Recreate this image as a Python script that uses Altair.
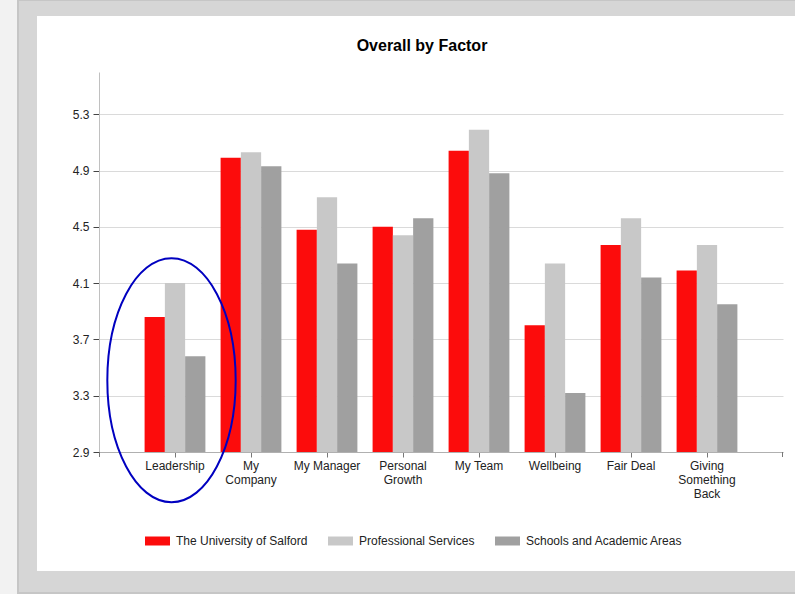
import altair as alt
import pandas as pd

factors = ["Leadership", "My Company", "My Manager", "Personal Growth",
           "My Team", "Wellbeing", "Fair Deal", "Giving Something Back"]
series = ["The University of Salford", "Professional Services", "Schools and Academic Areas"]
salford = [3.86, 4.99, 4.48, 4.50, 5.04, 3.80, 4.37, 4.19]
professional = [4.10, 5.03, 4.71, 4.44, 5.19, 4.24, 4.56, 4.37]
schools = [3.58, 4.93, 4.24, 4.56, 4.88, 3.32, 4.14, 3.95]
y_ticks = [2.9, 3.3, 3.7, 4.1, 4.5, 4.9, 5.3]
label_lines = {
    "My Company": ["My", "Company"],
    "Personal Growth": ["Personal", "Growth"],
    "Giving Something Back": ["Giving", "Something", "Back"],
}
colors = ["#fc0c0c", "#c8c8c8", "#a0a0a0"]

rows = []
for s, vals in zip(series, [salford, professional, schools]):
    for f, v in zip(factors, vals):
        rows.append({"factor": f, "series": s, "value": v})
df = pd.DataFrame(rows)

FONT = "Liberation Sans"
W, H = 684, 380
OX, OY = 99, 72

expr = ""
for k, parts in label_lines.items():
    arr = "[" + ",".join("'" + p + "'" for p in parts) + "]"
    expr += f"datum.value == '{k}' ? {arr} : "
expr += "datum.label"

x_axis = alt.Axis(title=None, labelAngle=0, labelFont=FONT, labelFontSize=12,
                  labelColor="#222222", labelLineHeight=14, labelPadding=3,
                  ticks=True, tickSize=5, tickColor="#777777", domainColor="#b0b0b0",
                  labelExpr=expr, grid=False, labelOverlap=False)
y_axis = alt.Axis(title=None, values=y_ticks, format=".1f", grid=True,
                  gridColor="#dadada", ticks=True, tickSize=6, tickColor="#444444",
                  domainColor="#c0c0c0", labelPadding=4, labelFont=FONT,
                  labelFontSize=12, labelColor="#222222")

x_scale = alt.Scale(domain=factors, paddingInner=0.2, paddingOuter=0.6)
y_scale = alt.Scale(domain=[2.9, 5.6], nice=False, zero=False)


def frame_rect(x1, x2, y1, y2, color):
    return alt.Chart(alt.Data(values=[{"k": 1}])).mark_rect(
        color=color, strokeWidth=0).encode(
        x=alt.value(x1 - OX), x2=alt.value(x2 - OX),
        y=alt.value(y1 - OY), y2=alt.value(y2 - OY))


frame = [
    frame_rect(0, 17, 0, 594, "#f2f2f2"),
    frame_rect(17, 19, 0, 594, "#c6c6c6"),
    frame_rect(19, 37, 0, 594, "#d6d6d6"),
    frame_rect(19, 795, 0, 16, "#d6d6d6"),
    frame_rect(17, 795, 0, 1, "#c6c6c6"),
    frame_rect(19, 795, 571, 594, "#d6d6d6"),
    frame_rect(19, 795, 592, 594, "#c6c6c6"),
]

# small end ticks of the category axis
end_ticks = [
    alt.Chart(alt.Data(values=[{"k": 1}])).mark_rule(color="#777777", strokeWidth=1).encode(
        x=alt.value(xv), y=alt.value(H), y2=alt.value(H + 5))
    for xv in (0.5, W - 0.5)
]

bars = alt.Chart(df).mark_bar().encode(
    x=alt.X("factor:N", scale=x_scale, axis=x_axis, sort=factors),
    xOffset=alt.XOffset("series:N", sort=series, scale=alt.Scale(domain=series, paddingInner=0, paddingOuter=0)),
    y=alt.Y("value:Q", scale=y_scale, axis=y_axis),
    y2=alt.datum(2.9),
    color=alt.Color("series:N", scale=alt.Scale(domain=series, range=colors),
                    legend=alt.Legend(title=None, orient="none", legendX=46, legendY=456.5,
                                      direction="horizontal", padding=0, gridAlign="none",
                                      symbolType="M-1,-0.36H1V0.36H-1Z", symbolSize=625,
                                      symbolStrokeWidth=0, symbolOpacity=1,
                                      labelFont=FONT, labelFontSize=12, labelColor="#222222",
                                      labelOffset=6, columnPadding=20)),
)

ellipse_path = "M-0.526,0 A0.526,1 0 1,1 0.526,0 A0.526,1 0 1,1 -0.526,0 Z"
ellipse = alt.Chart(alt.Data(values=[{"k": 1}])).mark_point(
    shape=ellipse_path, size=59536, filled=False, color="#0000c0",
    strokeWidth=2, opacity=1, xOffset=-3.5).encode(
    x=alt.X(datum="Leadership", scale=x_scale, axis=x_axis),
    y=alt.Y(datum=3.41, scale=y_scale, axis=y_axis),
)

chart = alt.layer(*frame, *end_ticks, bars, ellipse).properties(
    width=W, height=H,
    autosize=alt.AutoSizeParams(type="none"),
    padding={"left": OX, "top": OY, "right": 795 - OX - W, "bottom": 594 - OY - H},
    title=alt.TitleParams("Overall by Factor", font=FONT, fontSize=16, fontWeight="bold",
                          color="#000000", anchor="middle", dx=-19, offset=0, dy=67,
                          baseline="alphabetic", frame="group"),
).configure(font=FONT, background="white").configure_view(stroke=None)

chart.save("out.html", embed_options={"renderer": "svg", "actions": False})
